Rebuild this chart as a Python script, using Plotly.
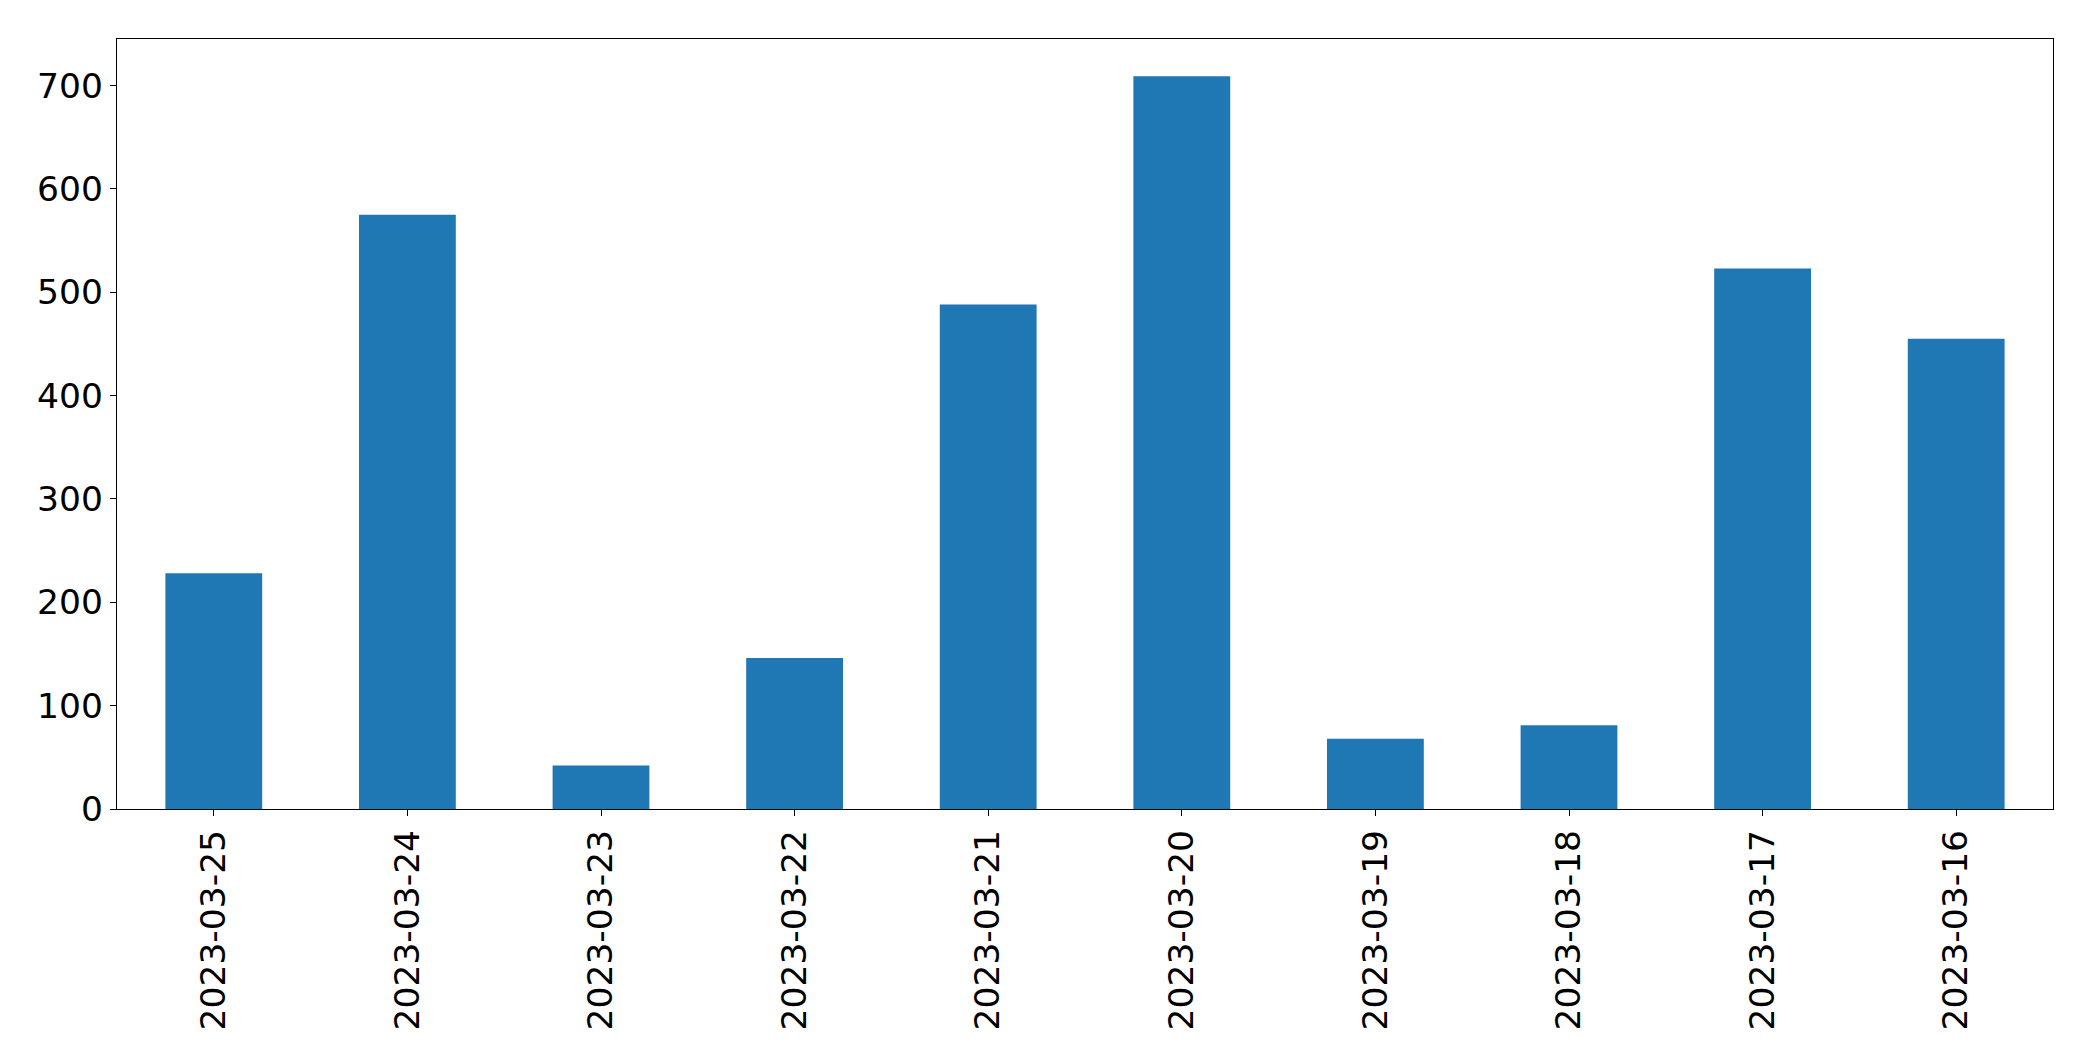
import plotly.graph_objects as go

dates = ["2023-03-25", "2023-03-24", "2023-03-23", "2023-03-22", "2023-03-21",
         "2023-03-20", "2023-03-19", "2023-03-18", "2023-03-17", "2023-03-16"]
values = [228, 575, 42, 146, 488, 709, 68, 81, 523, 455]
y_ticks = [0, 100, 200, 300, 400, 500, 600, 700]

fig = go.Figure(go.Bar(x=dates, y=values, width=0.5, marker=dict(color="#1f77b4", line=dict(width=0))))

axis_common = dict(
    showline=True, linecolor="black", linewidth=1.3, mirror=True,
    ticks="outside", ticklen=6, tickwidth=1.3, tickcolor="black",
    showgrid=False, zeroline=False, automargin=False,
    tickfont=dict(family="DejaVu Sans", size=34.5, color="black"),
)

fig.update_layout(
    width=2085, height=1053,
    margin=dict(l=109, r=40, t=31, b=252),
    paper_bgcolor="white", plot_bgcolor="white",
    showlegend=False,
    xaxis=dict(type="category", range=[-0.5, 9.5], tickangle=-90, **axis_common),
    yaxis=dict(range=[0, 745], tickvals=y_ticks, **axis_common),
)

fig.write_html("out.html")
